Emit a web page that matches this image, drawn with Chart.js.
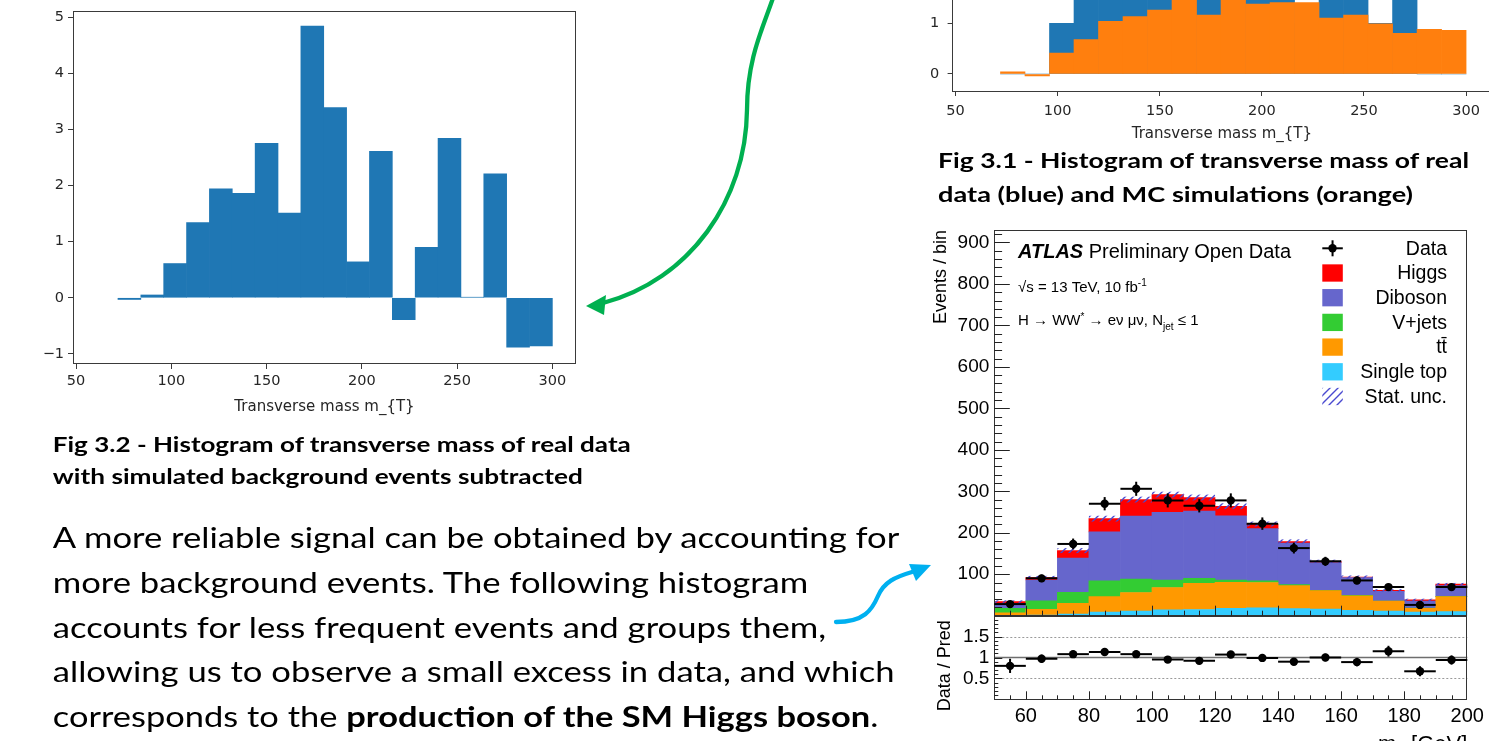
<!DOCTYPE html>
<html lang="en">
<head>
<meta charset="utf-8">
<title>Transverse mass histograms</title>
<script src="https://cdn.jsdelivr.net/npm/chart.js@4.4.1/dist/chart.umd.min.js"></script>
<style>
  html, body { margin: 0; padding: 0; background: #fff; }
  body { width: 1489px; height: 741px; overflow: hidden; position: relative; }
  canvas { position: absolute; }
  #fig32 { left: 0; top: 0; }
  #fig31 { left: 880px; top: -260px; }
  #atlasMain { left: 930px; top: 220px; }
  #atlasRatio { left: 930px; top: 610px; }
  #slide { position: absolute; left: 0; top: 0; }
</style>
</head>
<body>
<canvas id="fig32" width="600" height="430"></canvas>
<canvas id="fig31" width="640" height="406"></canvas>
<canvas id="atlasMain" width="559" height="400"></canvas>
<canvas id="atlasRatio" width="559" height="131"></canvas>

<svg id="slide" width="1489" height="741" font-family="Lato, 'Open Sans', 'DejaVu Sans', sans-serif" fill="#000">
  <!-- captions -->
  <text x="938" y="168.3" font-size="21.5" font-weight="700" textLength="531" lengthAdjust="spacingAndGlyphs">Fig 3.1 - Histogram of transverse mass of real</text>
  <text x="938" y="201.7" font-size="21.5" font-weight="700" textLength="475" lengthAdjust="spacingAndGlyphs">data (blue) and MC simulations (orange)</text>
  <text x="52.8" y="451.7" font-size="21.5" font-weight="700" textLength="578" lengthAdjust="spacingAndGlyphs">Fig 3.2 - Histogram of transverse mass of real data</text>
  <text x="52.8" y="484" font-size="21.5" font-weight="700" textLength="530" lengthAdjust="spacingAndGlyphs">with simulated background events subtracted</text>
  <!-- body text -->
  <text x="52.8" y="548.3" font-size="29" textLength="846.5" lengthAdjust="spacingAndGlyphs">A more reliable signal can be obtained by accounting for</text>
  <text x="52.8" y="592.9" font-size="29" textLength="755.4" lengthAdjust="spacingAndGlyphs">more background events. The following histogram</text>
  <text x="52.8" y="637.5" font-size="29" textLength="773.4" lengthAdjust="spacingAndGlyphs">accounts for less frequent events and groups them,</text>
  <text x="52.8" y="682.1" font-size="29" textLength="841.7" lengthAdjust="spacingAndGlyphs">allowing us to observe a small excess in data, and which</text>
  <text x="52.8" y="726.7" font-size="29" textLength="825.5" lengthAdjust="spacingAndGlyphs">corresponds to the <tspan font-weight="700">production of the SM Higgs boson</tspan>.</text>
  <!-- arrows -->
  <path d="M773,-2 C762,30 747,60 747,110 C746,200 690,280 603,303" fill="none" stroke="#00b050" stroke-width="4.3"/>
  <polygon points="586,306 606,295 604,315" fill="#00b050"/>
  <path d="M836,622 C864,622 872,610 878,596 C884,582 895,577 912,572" fill="none" stroke="#00b0f0" stroke-width="4.3" stroke-linecap="round"/>
  <polygon points="931,565 909,564 916,581" fill="#00b0f0"/>
</svg>

<script>
// ---------- Fig 3.2: data minus simulated background, 12 GeV bins ----------
const mtBinCentres = [78, 90, 102, 114, 126, 138, 150, 162, 174, 186, 198, 210, 222, 234, 246, 258, 270, 282, 294];
const bgSubtracted = [-0.03, 0.05, 0.61, 1.34, 1.94, 1.86, 2.75, 1.51, 4.84, 3.39, 0.64, 2.61, -0.39, 0.90, 2.84, 0.01, 2.21, -0.88, -0.86];

// ---------- Fig 3.1: real data and MC simulation, same bins ----------
const realData = [0, 0, 1, 2, 3, 3, 4, 3, 6, 5, 2, 4, 1, 2, 4, 1, 3, 0, 0];
const mcSim = [0.04, -0.04, 0.41, 0.68, 1.04, 1.13, 1.26, 1.49, 1.16, 1.61, 1.38, 1.41, 1.41, 1.10, 1.16, 0.99, 0.80, 0.88, 0.86];

const mtTicks = [50, 100, 150, 200, 250, 300];
const subTicksY = [-1, 0, 1, 2, 3, 4, 5];
const cmpTicksY = [0, 1, 2, 3, 4, 5, 6];

// ---------- ATLAS Open Data H -> WW*, 10 GeV bins ----------
const atlasBins = [55, 65, 75, 85, 95, 105, 115, 125, 135, 145, 155, 165, 175, 185, 195];
const singleTop = [1, 1.5, 4, 9, 11, 14, 15, 18, 19, 17, 16, 13, 11, 9, 10];
const ttbar = [6, 14, 26, 37, 45, 54, 63, 62.6, 61, 55.6, 44.5, 35, 24, 9, 36];
const vJets = [11, 20.5, 26.5, 38, 32, 18, 12, 5.4, 4, 2.4, 0.5, 1, 0.5, 0.5, 0.5];
const diboson = [12, 50, 82.5, 118, 152, 163, 162, 155, 126, 100, 67, 43, 23.5, 17, 26];
const higgs = [4, 6, 18, 32, 40, 43, 33, 23, 11, 4, 3, 1, 2, 2.5, 3.5];
const statUnc = [3, 4, 6, 7, 7, 7, 7, 7, 6, 5, 4, 4, 3, 3, 3];
const obsEvents = [28, 90, 173, 270, 306, 278, 265, 278, 222, 163, 131, 85, 69, 26, 69];
const obsErr = [5, 9, 13, 16, 17, 17, 16, 17, 15, 13, 11, 9, 8, 5, 8];
const ratio = [0.80, 0.97, 1.08, 1.13, 1.08, 0.95, 0.92, 1.07, 0.99, 0.90, 1.00, 0.89, 1.15, 0.67, 0.94];
const ratioErr = [0.17, 0.10, 0.08, 0.07, 0.06, 0.06, 0.06, 0.07, 0.07, 0.08, 0.09, 0.10, 0.13, 0.12, 0.11];

const atlasTicksX = [60, 80, 100, 120, 140, 160, 180, 200];
const atlasTicksY = [100, 200, 300, 400, 500, 600, 700, 800, 900];
const ratioTicksY = [0.5, 1, 1.5];

const legendLabels = ['Data', 'Higgs', 'Diboson', 'V+jets', 'tt\u0304', 'Single top', 'Stat. unc.'];
const stackColours = { singleTop: '#33ccff', ttbar: '#ff9900', vJets: '#33cc33', diboson: '#6666cc', higgs: '#ff0000' };

const BIN_HALF = 5;
const mplFont = "'DejaVu Sans', sans-serif";
const rootFont = "'Liberation Sans', Arial, sans-serif";

Chart.defaults.animation = false;
Chart.defaults.events = [];

const toPoints = (xs, ys) => xs.map((x, i) => ({ x, y: ys[i] }));
const setTicks = list => s => { s.ticks = list.map(v => ({ value: v })); };
// fixed axis box size, without the label overhang padding
const fixWidth = w => s => { s.width = w; s.paddingTop = 0; s.paddingBottom = 0; };
const fixHeight = h => s => { s.height = h; s.paddingLeft = 0; s.paddingRight = 0; };

// full rectangular frame around the plotting area
const framePlugin = {
  id: 'frame',
  afterDatasetsDraw(chart, args, opts) {
    const { left, top, right, bottom } = chart.chartArea;
    const c = chart.ctx;
    c.save();
    c.strokeStyle = opts.color || '#333';
    c.lineWidth = opts.width || 1;
    c.strokeRect(Math.round(left) + 0.5, Math.round(top) + 0.5, Math.round(right - left) - 1, Math.round(bottom - top) - 1);
    c.restore();
  }
};

function mplScales(xMin, xMax, yMin, yMax, yTicks, sizes) {
  const tickCol = '#3a3a3a', labCol = '#262626';
  return {
    x: {
      type: 'linear', min: xMin, max: xMax, offset: false, stacked: true,
      afterBuildTicks: setTicks(mtTicks),
      afterFit: fixHeight(sizes.xH),
      grid: { drawOnChartArea: false, offset: false, tickLength: sizes.tick, color: tickCol },
      border: { display: false },
      ticks: { font: { family: mplFont, size: sizes.font }, color: labCol, padding: sizes.xPad, maxRotation: 0, autoSkip: false },
      title: { display: true, text: 'Transverse mass m_{T}', font: { family: mplFont, size: sizes.title }, color: labCol, padding: { top: 0, bottom: sizes.titlePad } }
    },
    y: {
      min: yMin, max: yMax, stacked: false,
      afterBuildTicks: setTicks(yTicks),
      afterFit: fixWidth(sizes.yW),
      grid: { drawOnChartArea: false, tickLength: sizes.tick, color: tickCol },
      border: { display: false },
      ticks: { font: { family: mplFont, size: sizes.font }, color: labCol, padding: sizes.yPad,
               callback: v => (v < 0 ? '\u2212' + (-v) : String(v)) }
    }
  };
}

const barStyle = { borderWidth: 0, barThickness: 'flex', barPercentage: 1, categoryPercentage: 1 };

// ---------- Fig 3.2 ----------
new Chart('fig32', {
  type: 'bar',
  data: { datasets: [{ ...barStyle, data: toPoints(mtBinCentres, bgSubtracted), backgroundColor: '#1f77b4' }] },
  options: {
    responsive: false,
    layout: { padding: { top: 11, right: 24, bottom: 0, left: 0 } },
    plugins: { legend: { display: false }, tooltip: { enabled: false }, frame: { color: '#3a3a3a' } },
    scales: mplScales(48.4, 312.4, -1.18, 5.11, subTicksY,
      { xH: 66, yW: 73, tick: 5, font: 14.5, title: 15, xPad: 4, yPad: 4, titlePad: 14.3 })
  },
  plugins: [framePlugin]
});

// ---------- Fig 3.1: MC drawn over the data ----------
new Chart('fig31', {
  type: 'bar',
  data: { datasets: [
    { ...barStyle, label: 'MC', data: toPoints(mtBinCentres, mcSim), backgroundColor: '#ff7f0e' },
    { ...barStyle, label: 'Data', data: toPoints(mtBinCentres, realData), backgroundColor: '#1f77b4' }
  ] },
  options: {
    responsive: false,
    layout: { padding: { top: 14.5, right: 28.6, bottom: 0, left: 0 } },
    plugins: { legend: { display: false }, tooltip: { enabled: false }, frame: { color: '#3a3a3a' } },
    scales: mplScales(48.4, 312.4, -0.342, 6.302, cmpTicksY,
      { xH: 54.7, yW: 72.3, tick: 4.7, font: 14.5, title: 15, xPad: 7, yPad: 8.3, titlePad: 3 })
  },
  plugins: [framePlugin]
});

// ---------- ATLAS plot helpers ----------
function hatchPattern(ctx) {
  const t = document.createElement('canvas');
  t.width = t.height = 8;
  const g = t.getContext('2d');
  g.strokeStyle = '#4a4ad0';
  g.lineWidth = 1.4;
  g.beginPath();
  g.moveTo(-2, 10); g.lineTo(10, -2);
  g.moveTo(-2, 2); g.lineTo(2, -2);
  g.moveTo(6, 10); g.lineTo(10, 6);
  g.stroke();
  return ctx.createPattern(t, 'repeat');
}

function line(c, x1, y1, x2, y2) { c.beginPath(); c.moveTo(x1, y1); c.lineTo(x2, y2); c.stroke(); }

function drawRuns(c, x, y, runs) {
  for (const r of runs) {
    c.font = r.font;
    c.fillText(r.t, x, y + (r.dy || 0));
    x += c.measureText(r.t).width;
  }
  return x;
}

function drawErrors(chart, xs, ys, errs) {
  const c = chart.ctx, sx = chart.scales.x, sy = chart.scales.y;
  c.save();
  c.strokeStyle = '#000';
  c.lineWidth = 2;
  xs.forEach((x, i) => {
    const px = sx.getPixelForValue(x), py = sy.getPixelForValue(ys[i]);
    line(c, sx.getPixelForValue(x - BIN_HALF), py, sx.getPixelForValue(x + BIN_HALF), py);
    line(c, px, sy.getPixelForValue(ys[i] - errs[i]), px, sy.getPixelForValue(ys[i] + errs[i]));
  });
  c.restore();
}

function drawXTicks(chart, major, minor) {
  const c = chart.ctx, sx = chart.scales.x, b = chart.chartArea.bottom;
  c.save(); c.strokeStyle = '#222'; c.lineWidth = 1;
  for (let v = 55; v < 200; v += 5) {
    const px = Math.round(sx.getPixelForValue(v)) + 0.5;
    line(c, px, b, px, b - (v % 20 === 0 ? major : minor));
  }
  c.restore();
}

const atlasMainDecor = {
  id: 'atlasMainDecor',
  afterDatasetDraw(chart, args) {
    if (args.index !== 1) return;
    // statistical uncertainty band on top of the stack
    const c = chart.ctx, sy = chart.scales.y;
    const tops = chart.getDatasetMeta(5).data;
    c.save();
    c.fillStyle = hatchPattern(c);
    tops.forEach((bar, i) => {
      const u = sy.getPixelForValue(0) - sy.getPixelForValue(statUnc[i]);
      c.fillRect(bar.x - bar.width / 2, bar.y - u, bar.width, 2 * u);
    });
    c.restore();
  },
  afterDatasetsDraw(chart) {
    drawErrors(chart, atlasBins, obsEvents, obsErr);
  },
  afterDraw(chart) {
    const c = chart.ctx, sy = chart.scales.y;
    const { left, top, right } = chart.chartArea;
    c.save();
    // inner ticks on the y axis
    c.strokeStyle = '#222'; c.lineWidth = 1;
    for (let v = 0; v <= 920; v += 20) {
      const py = Math.round(sy.getPixelForValue(v)) + 0.5;
      line(c, left, py, left + (v % 100 === 0 ? 15.5 : 7.8), py);
    }
    c.restore();
    drawXTicks(chart, 10, 5);

    c.save();
    c.fillStyle = '#000';
    c.textBaseline = 'alphabetic';
    c.textAlign = 'left';
    drawRuns(c, left + 23.7, top + 28.3, [
      { t: 'ATLAS', font: `italic bold 20px ${rootFont}` },
      { t: ' Preliminary Open Data', font: `20px ${rootFont}` }
    ]);
    drawRuns(c, left + 23.7, top + 61.5, [
      { t: '\u221As = 13 TeV, 10 fb', font: `15px ${rootFont}` },
      { t: '-1', font: `10px ${rootFont}`, dy: -6 }
    ]);
    drawRuns(c, left + 23.7, top + 95, [
      { t: 'H \u2192 WW', font: `15px ${rootFont}` },
      { t: '*', font: `10px ${rootFont}`, dy: -5 },
      { t: ' \u2192 e\u03BD \u03BC\u03BD, N', font: `15px ${rootFont}` },
      { t: 'jet', font: `10px ${rootFont}`, dy: 5 },
      { t: ' \u2264 1', font: `15px ${rootFont}` }
    ]);

    // legend
    const boxX = right - 145, boxW = 20.5, boxH = 17.3, textX = right - 20.3;
    const fills = [null, stackColours.higgs, stackColours.diboson, stackColours.vJets, stackColours.ttbar, stackColours.singleTop, 'hatch'];
    c.font = `19.5px ${rootFont}`;
    c.textAlign = 'right';
    c.textBaseline = 'middle';
    legendLabels.forEach((lab, i) => {
      const cy = top + 18.3 + i * 24.7;
      if (i === 0) {
        c.strokeStyle = '#000'; c.lineWidth = 2;
        line(c, boxX, cy, boxX + boxW, cy);
        line(c, boxX + boxW / 2, cy - 8, boxX + boxW / 2, cy + 8);
        c.beginPath(); c.arc(boxX + boxW / 2, cy, 4.2, 0, Math.PI * 2); c.fillStyle = '#000'; c.fill();
      } else if (fills[i] === 'hatch') {
        c.fillStyle = hatchPattern(c);
        c.fillRect(boxX, cy - boxH / 2, boxW, boxH);
      } else {
        c.fillStyle = fills[i];
        c.fillRect(boxX, cy - boxH / 2, boxW, boxH);
      }
      c.fillStyle = '#000';
      c.fillText(lab, textX, cy + 1);
    });

    // y axis title
    c.translate(940.8 - 930, top);
    c.rotate(-Math.PI / 2);
    c.font = `18px ${rootFont}`;
    c.textAlign = 'right';
    c.textBaseline = 'middle';
    c.fillText('Events / bin', 0, 0);
    c.restore();
  }
};

const atlasRatioDecor = {
  id: 'atlasRatioDecor',
  beforeDatasetsDraw(chart) {
    const c = chart.ctx, sy = chart.scales.y;
    const { left, right } = chart.chartArea;
    c.save();
    c.strokeStyle = '#9a9a9a'; c.lineWidth = 1; c.setLineDash([2, 2]);
    [0.5, 1.5].forEach(v => { const py = Math.round(sy.getPixelForValue(v)) + 0.5; line(c, left, py, right, py); });
    c.setLineDash([]);
    c.strokeStyle = '#6e6e6e'; c.lineWidth = 1.6;
    const p1 = sy.getPixelForValue(1);
    line(c, left, p1, right, p1);
    c.restore();
  },
  afterDatasetsDraw(chart) {
    drawErrors(chart, atlasBins, ratio, ratioErr);
  },
  afterDraw(chart) {
    const c = chart.ctx, sy = chart.scales.y;
    const { left, right, bottom } = chart.chartArea;
    c.save();
    c.strokeStyle = '#222'; c.lineWidth = 1;
    for (let k = 1; k < 20; k++) {
      const py = Math.round(sy.getPixelForValue(k / 10)) + 0.5;
      line(c, left, py, left + (k % 5 === 0 ? 8 : 4), py);
    }
    c.restore();
    drawXTicks(chart, 8, 4);

    c.save();
    c.fillStyle = '#000';
    c.translate(945 - 930, 665.8 - 610);
    c.rotate(-Math.PI / 2);
    c.font = `18px ${rootFont}`;
    c.textAlign = 'center';
    c.textBaseline = 'middle';
    c.fillText('Data / Pred', 0, 0);
    c.restore();

    // x axis title, right aligned
    c.save();
    c.fillStyle = '#000';
    c.textBaseline = 'alphabetic';
    c.textAlign = 'left';
    const base = bottom + 51.5;
    c.font = `22px ${rootFont}`;
    const wUnit = c.measureText(' [GeV]').width;
    const wM = c.measureText('m').width;
    c.font = `14px ${rootFont}`;
    const wSub = c.measureText('T').width;
    let x = right - wUnit - wSub - wM;
    x = drawRuns(c, x, base, [{ t: 'm', font: `22px ${rootFont}` }, { t: 'T', font: `14px ${rootFont}`, dy: 5 }]);
    drawRuns(c, x, base, [{ t: ' [GeV]', font: `22px ${rootFont}` }]);
    c.restore();
  }
};

const rootTickFont = { family: rootFont, size: 19 };

// ---------- ATLAS main panel ----------
new Chart('atlasMain', {
  type: 'bar',
  data: { datasets: [
    { type: 'line', label: 'Data', stack: 'obs', data: toPoints(atlasBins, obsEvents), showLine: false,
      pointRadius: 4.2, pointBackgroundColor: '#000', pointBorderWidth: 0 },
    { ...barStyle, label: 'Single top', data: toPoints(atlasBins, singleTop), backgroundColor: stackColours.singleTop },
    { ...barStyle, label: 'ttbar', data: toPoints(atlasBins, ttbar), backgroundColor: stackColours.ttbar },
    { ...barStyle, label: 'V+jets', data: toPoints(atlasBins, vJets), backgroundColor: stackColours.vJets },
    { ...barStyle, label: 'Diboson', data: toPoints(atlasBins, diboson), backgroundColor: stackColours.diboson },
    { ...barStyle, label: 'Higgs', data: toPoints(atlasBins, higgs), backgroundColor: stackColours.higgs }
  ] },
  options: {
    responsive: false,
    layout: { padding: { top: 10, right: 21.7, bottom: 4.3, left: 0 } },
    plugins: { legend: { display: false }, tooltip: { enabled: false }, frame: { color: '#333' } },
    scales: {
      x: { type: 'linear', min: 50, max: 200, stacked: true, offset: false, display: false },
      y: { stacked: true, min: 0, max: 930,
           afterBuildTicks: setTicks(atlasTicksY),
           afterFit: fixWidth(64.3),
           grid: { display: false, drawTicks: false }, border: { display: false },
           ticks: { font: rootTickFont, color: '#000', padding: 5 } }
    }
  },
  plugins: [framePlugin, atlasMainDecor]
});

// ---------- ATLAS ratio panel ----------
new Chart('atlasRatio', {
  type: 'scatter',
  data: { datasets: [
    { label: 'Data / Pred', data: toPoints(atlasBins, ratio), pointRadius: 4.2, pointBackgroundColor: '#000', pointBorderWidth: 0 }
  ] },
  options: {
    responsive: false,
    layout: { padding: { top: 5.7, right: 21.7, bottom: 0, left: 0 } },
    plugins: { legend: { display: false }, tooltip: { enabled: false }, frame: { color: '#333' } },
    scales: {
      x: { type: 'linear', min: 50, max: 200, offset: false,
           afterBuildTicks: setTicks(atlasTicksX),
           afterFit: fixHeight(41.7),
           grid: { display: false, drawTicks: false }, border: { display: false },
           ticks: { font: { family: rootFont, size: 20 }, color: '#000', padding: 5.4, maxRotation: 0, autoSkip: false } },
      y: { min: 0, max: 2,
           afterBuildTicks: setTicks(ratioTicksY),
           afterFit: fixWidth(64.3),
           grid: { display: false, drawTicks: false }, border: { display: false },
           ticks: { font: rootTickFont, color: '#000', padding: 5, callback: v => String(v) } }
    }
  },
  plugins: [framePlugin, atlasRatioDecor]
});
</script>
</body>
</html>
